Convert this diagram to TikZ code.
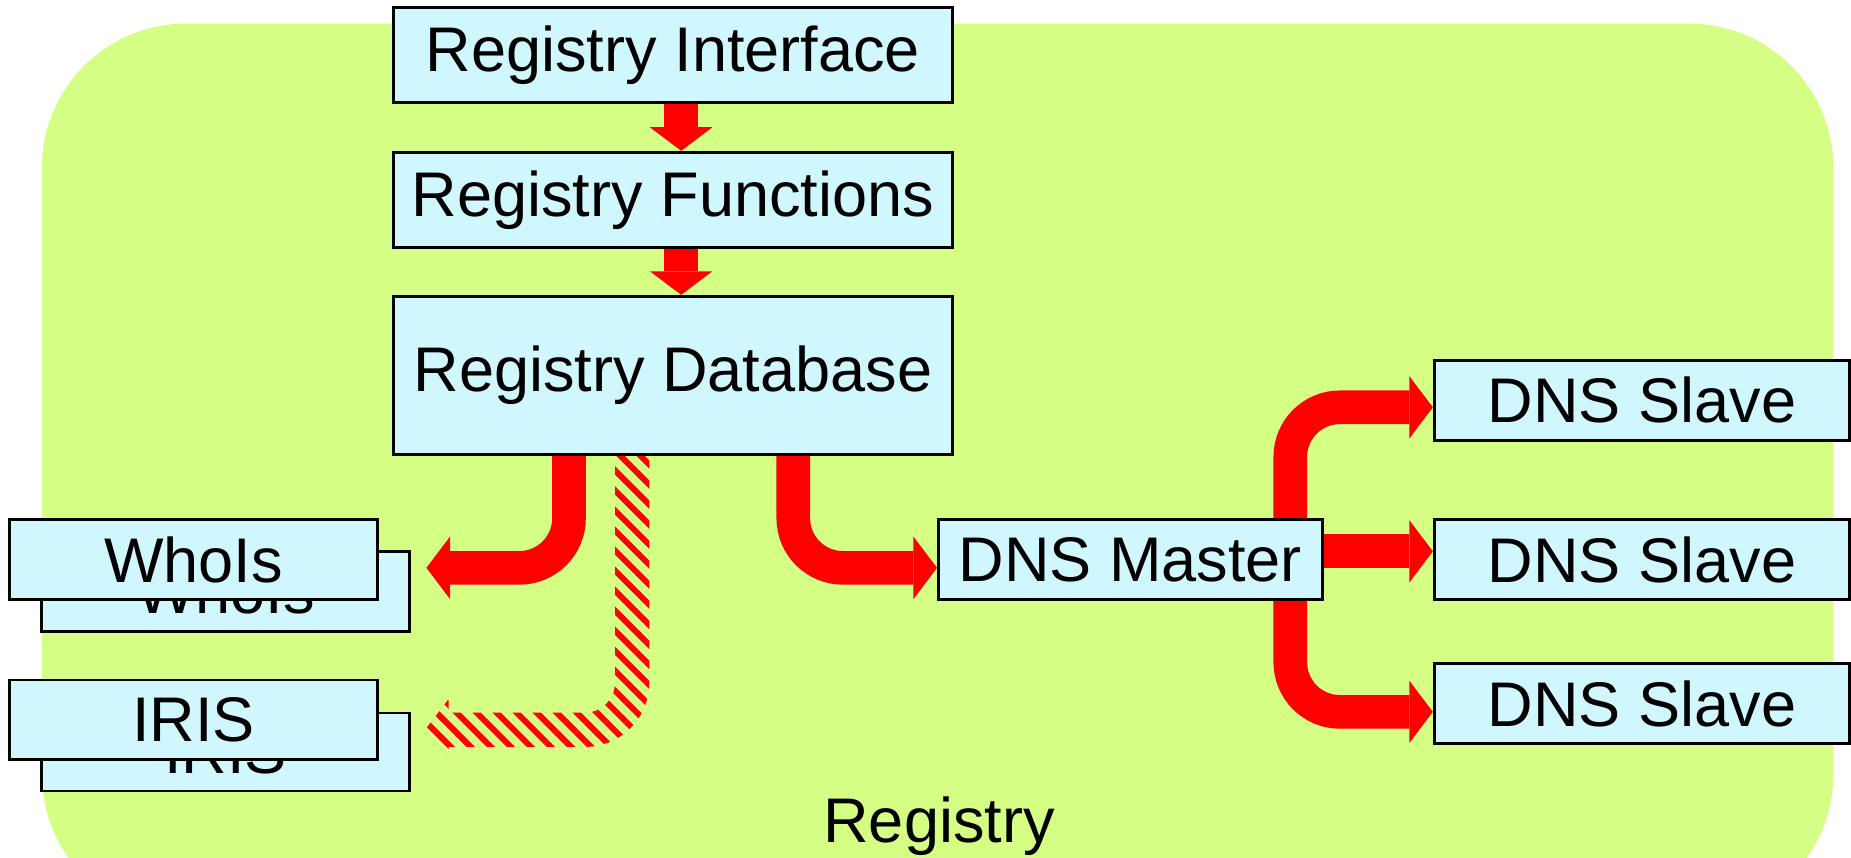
\documentclass[tikz,border=0pt]{standalone}
\usepackage{fontspec}
\setmainfont{Liberation Sans}
\usetikzlibrary{arrows.meta,patterns.meta,backgrounds}
\definecolor{regGreen}{RGB}{212,255,132}
\definecolor{boxCyan}{RGB}{208,247,253}
\tikzset{
  blk/.style={draw=black, line width=0.7pt, fill=boxCyan, inner sep=0pt,
    font=\fontsize{15.2}{18}\selectfont, minimum height=0.68cm},
  flow/.style={draw=red, line width=2.85mm, rounded corners=4.2mm,
    -{Triangle[width=5.3mm,length=2mm,line width=0pt]}},
  hatch/.style={pattern={Lines[angle=-45,distance=1.2mm,line width=0.5mm]}, pattern color=red},
}

\begin{document}
\begin{tikzpicture}
\useasboundingbox (0,0) rectangle (15.68,-7.26);
\clip (0,0) rectangle (15.68,-7.26);

% registry stack
\node[blk, minimum width=4.74cm, minimum height=0.81cm] (ri) at (5.70,-0.465) {Registry Interface};
\node[blk, minimum width=4.74cm, minimum height=0.81cm] (rf) at (5.70,-1.695) {Registry Functions};
\node[blk, minimum width=4.74cm, minimum height=1.34cm] (rdb) at (5.70,-3.18) {Registry Database};

% whois and iris servers
\node[blk, minimum width=3.12cm] (whoisb) at (1.91,-5.01) {WhoIs};
\node[blk, minimum width=3.12cm] (whois) at (1.64,-4.74) {WhoIs};
\node[blk, minimum width=3.12cm, minimum height=0.66cm] (irisb) at (1.91,-6.37) {IRIS};
\node[blk, minimum width=3.12cm, minimum height=0.67cm] (iris) at (1.64,-6.095) {IRIS};

% dns
\node[blk, minimum width=3.25cm] (dnsm) at (9.575,-4.74) {DNS Master};
\node[blk, minimum width=3.52cm] (s1) at (13.91,-3.39) {DNS Slave};
\node[blk, minimum width=3.52cm] (s2) at (13.91,-4.74) {DNS Slave};
\node[blk, minimum width=3.52cm] (s3) at (13.91,-5.96) {DNS Slave};

\node[font=\fontsize{15.2}{18}\selectfont, anchor=base] (reg) at (7.955,-7.14) {Registry};

\begin{scope}[on background layer]
\fill[regGreen, rounded corners=1.22cm] (0.355,-0.20) rectangle (15.53,-7.78);

\draw[flow] ([xshift=0.7mm]ri.south) -- ([xshift=0.7mm]rf.north);
\draw[flow] ([xshift=0.7mm]rf.south) -- ([xshift=0.7mm]rdb.north);
\draw[flow] ([xshift=-8.8mm]rdb.south) |- ([xshift=1.3mm,yshift=2mm]whoisb.east);
\draw[flow] ([xshift=10.2mm]rdb.south) |- ([yshift=-0.7mm]dnsm.west);

\draw[flow] ([xshift=13.55mm]dnsm.north) |- ([yshift=-0.6mm]s1.west);
\draw[flow] ([yshift=0.7mm]dnsm.east) -- ([yshift=0.7mm]s2.west);
\draw[flow] ([xshift=13.55mm]dnsm.south) |- ([yshift=-0.7mm]s3.west);

% hatched link to iris
\coordinate (hs) at ([xshift=-3.45mm]rdb.south);
\fill[hatch] ([xshift=-1.45mm]hs) -- ++(0,-1.92)
  arc[start angle=0,end angle=-90,radius=2.55mm] -- ++(-1.155,0)
  -- ++(0,0.115) -- ++(-0.2,-0.26) -- ++(0.2,-0.26) -- ++(0,0.115)
  -- ++(1.155,0) arc[start angle=-90,end angle=0,radius=5.45mm]
  -- ++(0,1.92) -- cycle;
\end{scope}

\end{tikzpicture}
\end{document}
